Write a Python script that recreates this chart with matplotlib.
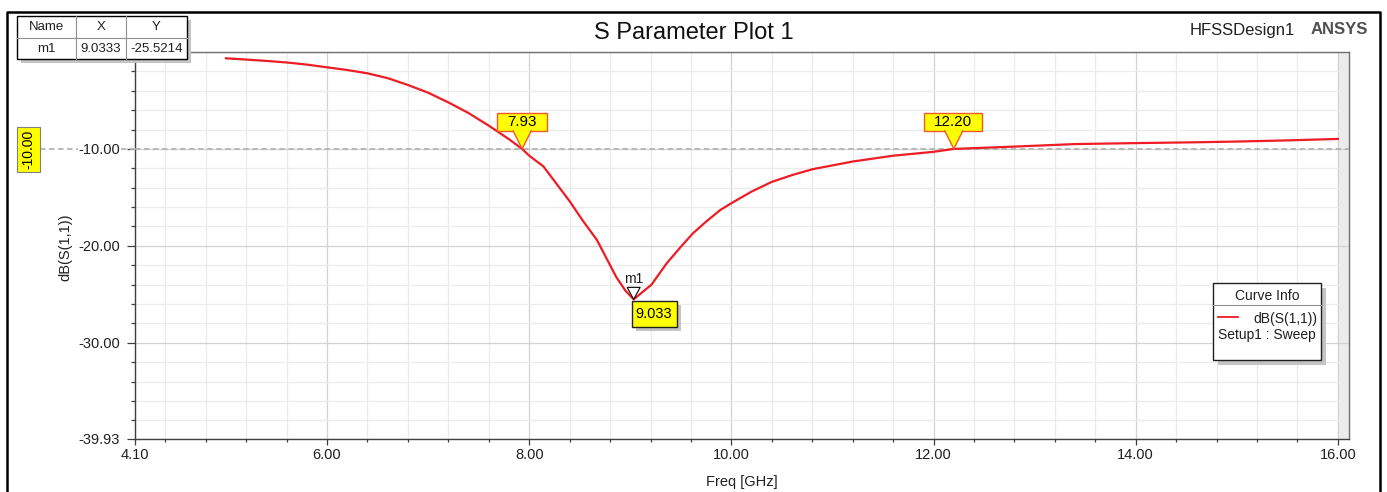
import matplotlib
matplotlib.use("Agg")  # headless
import matplotlib.pyplot as plt
import numpy as np
from matplotlib.patches import Rectangle, Polygon
from matplotlib.lines import Line2D

plt.rcParams['font.family'] = ['Liberation Sans', 'DejaVu Sans']

# S11 sweep
freq = [5.0, 5.2, 5.4, 5.6, 5.8, 6.0, 6.2, 6.4, 6.6, 6.8, 7.0, 7.2, 7.4, 7.6, 7.8,
        7.93, 8.0, 8.14, 8.27, 8.4, 8.53, 8.67, 8.78, 8.86, 8.95, 9.0333,
        9.21, 9.36, 9.5, 9.62, 9.75, 9.89, 10.0, 10.2, 10.4, 10.6, 10.8, 11.0,
        11.2, 11.6, 12.0, 12.2, 12.5, 12.8, 13.4, 14.0, 14.5, 15.0, 15.5, 16.0]
s11 = [-0.65, -0.78, -0.92, -1.08, -1.3, -1.58, -1.86, -2.2, -2.7, -3.4, -4.2,
       -5.2, -6.3, -7.6, -9.0, -10.0, -10.7, -11.8, -13.6, -15.4, -17.4, -19.4,
       -21.6, -23.2, -24.6, -25.5214, -24.0, -21.8, -20.1, -18.7, -17.5, -16.3,
       -15.6, -14.4, -13.4, -12.7, -12.1, -11.7, -11.3, -10.7, -10.3, -10.0,
       -9.88, -9.76, -9.5, -9.4, -9.33, -9.24, -9.12, -8.97]

x_ticks = [4.10, 6.00, 8.00, 10.00, 12.00, 14.00, 16.00]
y_ticks = [-39.93, -30.00, -20.00, -10.00, 0.00]
x_lim = (4.10, 16.11)
y_lim = (-39.93, 0.0)

marker_name = 'm1'
marker_x = 9.0333
marker_y = -25.5214
level = -10.0
cross_x = [7.93, 12.20]
cross_lbl = ['7.93', '12.20']

W, H = 1387, 492
fig = plt.figure(figsize=(W / 100, H / 100), dpi=100)


def fx(px):
    return px / W


def fy(py):
    return 1 - py / H


ax = fig.add_axes([fx(135), fy(439), fx(1349) - fx(135), fy(52) - fy(439)])
ax.set_xlim(*x_lim)
ax.set_ylim(*y_lim)

ax.axvspan(16.0, x_lim[1], color='#ececec', zorder=0)
ax.plot(freq, s11, color='#ee1c25', lw=1.6, zorder=4)
ax.axhline(level, color='#b4b4b4', ls=(0, (3, 2)), lw=1.3, zorder=3)

ax.set_xticks(x_ticks)
ax.set_xticklabels(['%.2f' % v for v in x_ticks])
ax.set_yticks(y_ticks)
ax.set_yticklabels(['%.2f' % v for v in y_ticks])
ax.set_xticks(np.arange(4.4, 16.01, 0.4), minor=True)
ax.set_yticks(np.arange(-38, -1, 2), minor=True)

ax.grid(which='minor', color='#ebebeb', lw=0.9)
ax.grid(which='major', color='#d2d2d2', lw=0.9)
ax.set_axisbelow(True)

for s in ['left', 'bottom']:
    ax.spines[s].set_color('#404040')
    ax.spines[s].set_linewidth(1.0)
for s in ['top', 'right']:
    ax.spines[s].set_color('#707070')
    ax.spines[s].set_linewidth(1.0)

ax.tick_params(axis='both', which='both', colors='#404040', labelcolor='#202020',
               labelsize=10.5, width=0.9)
ax.tick_params(axis='x', which='major', length=4.3, pad=2)
ax.tick_params(axis='x', which='minor', length=2.3)
ax.tick_params(axis='y', which='major', length=5.8, pad=5)
ax.tick_params(axis='y', which='minor', length=2.9)


def to_px(x, y):
    dx, dy = ax.transData.transform((x, y))
    return dx, H - dy


def box(x0, y0, x1, y1, fc, ec, lw=1.0, z=6, shadow=0):
    if shadow:
        fig.add_artist(Rectangle((fx(x0 + shadow), fy(y1 + shadow)), fx(x1 - x0), fy(y0) - fy(y1),
                                 transform=fig.transFigure, fc='#c4c4c4', ec='none', zorder=z - 0.1))
    fig.add_artist(Rectangle((fx(x0), fy(y1)), fx(x1 - x0), fy(y0) - fy(y1),
                             transform=fig.transFigure, fc=fc, ec=ec, lw=lw, zorder=z))


def hline(x0, x1, y, color, lw=1.0, ls='-', z=7):
    fig.add_artist(Line2D([fx(x0), fx(x1)], [fy(y), fy(y)], transform=fig.transFigure,
                          color=color, lw=lw, ls=ls, zorder=z))


def vline(x, y0, y1, color, lw=1.0, z=7):
    fig.add_artist(Line2D([fx(x), fx(x)], [fy(y0), fy(y1)], transform=fig.transFigure,
                          color=color, lw=lw, zorder=z))


# outer frame (open at the bottom)
fig.add_artist(Line2D([fx(7), fx(7), fx(1380), fx(1380)], [0, fy(12), fy(12), 0],
                      transform=fig.transFigure, color='black', lw=1.8, zorder=2))

fig.text(0.5, fy(33), 'S Parameter Plot 1', ha='center', va='center', fontsize=17, color='#111111')
fig.text(fx(1295), fy(31), 'HFSSDesign1', ha='right', va='center', fontsize=12, color='#202020')
fig.text(fx(1368), fy(30), 'ANSYS', ha='right', va='center', fontsize=12, fontweight='bold',
         color='#505050')
fig.text(fx(65), fy(247), 'dB(S(1,1))', rotation=90, ha='center', va='center', fontsize=10.5,
         color='#202020')
fig.text(fx(742), fy(482), 'Freq [GHz]', ha='center', va='center', fontsize=10.5, color='#202020')

# dashed level line continues left of the axes to the yellow tag
_, ly = to_px(x_lim[0], level)
hline(40, 78, ly, '#b4b4b4', lw=1.3, ls=(0, (3, 2)), z=3)
hline(121, 135, ly, '#b4b4b4', lw=1.3, ls=(0, (3, 2)), z=3)
box(17, ly - 22, 40, ly + 23, '#ffff00', '#808080', lw=0.8)
fig.text(fx(28.5), fy(ly + 0.5), '%.2f' % level, rotation=90, ha='center', va='center',
         fontsize=10, color='black', zorder=8)

# crossing tags
for cx, lbl in zip(cross_x, cross_lbl):
    px, py = to_px(cx, level)
    half = (50 if len(lbl) == 4 else 58) / 2
    bx0 = px - half + (0 if len(lbl) == 4 else -0.5)
    box(bx0, py - 36, bx0 + 2 * half, py - 18, '#ffff00', '#f05a28', lw=1.0, z=6)
    fig.add_artist(Polygon([[fx(px - 9), fy(py - 18.6)], [fx(px + 9), fy(py - 18.6)], [fx(px), fy(py)]],
                           closed=True, transform=fig.transFigure, fc='#ffff00', ec='none', zorder=6.5))
    fig.add_artist(Line2D([fx(px - 9), fx(px), fx(px + 9)], [fy(py - 18), fy(py), fy(py - 18)],
                          transform=fig.transFigure, color='#f05a28', lw=1.0, zorder=6.6))
    fig.text(fx(bx0 + half), fy(py - 26.5), lbl, ha='center', va='center', fontsize=11,
             color='black', zorder=8)

# m1 marker
mx, my = to_px(marker_x, marker_y)
fig.add_artist(Polygon([[fx(mx - 6.5), fy(my - 12)], [fx(mx + 6.5), fy(my - 12)], [fx(mx), fy(my)]],
                       closed=True, transform=fig.transFigure, fc='white', ec='black', lw=0.8, zorder=6))
fig.text(fx(mx), fy(my - 20), marker_name, ha='center', va='center', fontsize=10, color='#202020',
         zorder=8)
box(mx - 2, my + 2, mx + 43, my + 28, '#ffff00', '#202020', lw=1.0, shadow=4)
fig.text(fx(mx + 20.5), fy(my + 15), '%.3f' % marker_x, ha='center', va='center', fontsize=10.5,
         color='black', zorder=8)

# marker table
box(17, 16, 187, 59, 'white', 'black', lw=1.0, shadow=4, z=9)
hline(17, 187, 37.5, '#909090', lw=0.8, z=9.5)
vline(76, 16, 59, '#909090', lw=0.8, z=9.5)
vline(126, 16, 59, '#909090', lw=0.8, z=9.5)
cells = [('Name', 'X', 'Y'), (marker_name, '%.4f' % marker_x, '%.4f' % marker_y)]
col_c = [46.5, 101, 156.5]
row_c = [27, 48.5]
for r, row in enumerate(cells):
    for c, t in enumerate(row):
        fig.text(fx(col_c[c]), fy(row_c[r]), t, ha='center', va='center', fontsize=9.5,
                 color='#202020', zorder=10)

# curve info box
box(1213, 283, 1321, 360, 'white', '#202020', lw=1.0, shadow=5, z=9)
hline(1213, 1321, 305, '#909090', lw=0.8, z=9.5)
fig.text(fx(1267), fy(296.5), 'Curve Info', ha='center', va='center', fontsize=10,
         color='#202020', zorder=10)
hline(1218, 1238, 316.5, '#ee1c25', lw=1.3, z=10)
fig.text(fx(1317), fy(318.5), 'dB(S(1,1))', ha='right', va='center', fontsize=10,
         color='#202020', zorder=10)
fig.text(fx(1218), fy(335.5), 'Setup1 : Sweep', ha='left', va='center', fontsize=10,
         color='#202020', zorder=10)

fig.savefig('out.png', dpi=100, format='png')
